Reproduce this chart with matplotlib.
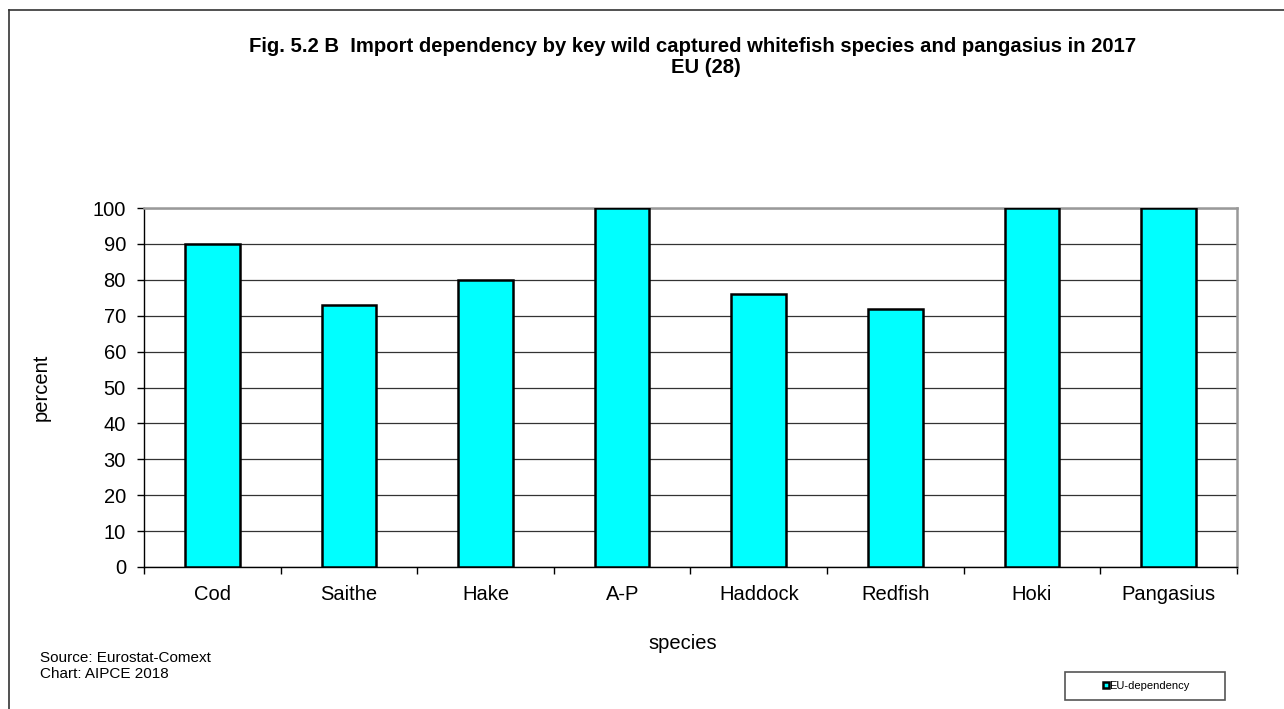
import matplotlib.pyplot as plt
import numpy as np
from matplotlib.lines import Line2D
from matplotlib.patches import Rectangle

plt.rcParams['font.family'] = ['Liberation Sans', 'DejaVu Sans']

# DATA
SPECIES = ['Cod', 'Saithe', 'Hake', 'A-P', 'Haddock', 'Redfish', 'Hoki', 'Pangasius']
DEPENDENCY = [90, 73, 80, 100, 76, 72, 100, 100]
Y_TICKS = list(range(0, 101, 10))

BAR_COLOR = '#00FFFF'

fig = plt.figure(figsize=(12.84, 7.09), dpi=100)
fig.patch.set_facecolor('white')

# outer chart frame (left and top edges only)
fig.add_artist(Line2D([0.007, 0.007], [0.986, 0.0], transform=fig.transFigure,
                      color='#333333', lw=1.2))
fig.add_artist(Line2D([0.007, 1.0], [0.986, 0.986], transform=fig.transFigure,
                      color='#333333', lw=1.2))

ax = fig.add_axes([0.1121, 0.2003, 0.8513, 0.5063])

x = np.arange(len(SPECIES))
ax.bar(x, DEPENDENCY, width=0.4, color=BAR_COLOR, edgecolor='black',
       linewidth=1.8, zorder=3)

ax.set_xlim(-0.5, len(SPECIES) - 0.5)
ax.set_ylim(0, 100)
ax.set_yticks(Y_TICKS)
ax.set_yticklabels([str(v) for v in Y_TICKS], fontsize=14.5)

# category labels centred, tick marks on the boundaries
ax.set_xticks(x)
ax.set_xticklabels(SPECIES, fontsize=14.5)
ax.tick_params(axis='x', length=0, pad=13)
ax.set_xticks(np.arange(-0.5, len(SPECIES), 1), minor=True)
ax.tick_params(axis='x', which='minor', length=5, width=1, color='black',
               direction='out')
ax.tick_params(axis='y', length=5, width=1, direction='out', pad=8)

ax.grid(axis='y', color='#333333', linewidth=0.9, zorder=1)
ax.set_axisbelow(True)

ax.spines['left'].set_color('black')
ax.spines['bottom'].set_color('black')
ax.spines['left'].set_linewidth(1)
ax.spines['bottom'].set_linewidth(1)
ax.spines['top'].set_color('#999999')
ax.spines['right'].set_color('#999999')
ax.spines['top'].set_linewidth(1.8)
ax.spines['right'].set_linewidth(1.8)

ax.set_ylabel('percent', fontsize=14.5)
ax.yaxis.set_label_coords(-0.094, 0.5)
ax.set_xlabel('species', fontsize=14.5)
ax.xaxis.set_label_coords(0.493, -0.212)
ax.xaxis.label.set_va('center')
ax.yaxis.label.set_va('center')

# TITLE
fig.text(0.5397, 0.935,
         'Fig. 5.2 B  Import dependency by key wild captured whitefish species and pangasius in 2017',
         ha='center', va='center', fontsize=14.6, fontweight='bold')
fig.text(0.55, 0.905, 'EU (28)', ha='center', va='center',
         fontsize=14.6, fontweight='bold')

# Source note
fig.text(0.0312, 0.0607, 'Source: Eurostat-Comext\nChart: AIPCE 2018',
         ha='left', va='center', fontsize=11, linespacing=1.15)

# Legend box
fig.add_artist(Rectangle((0.8295, 0.0127), 0.1246, 0.0395,
                         transform=fig.transFigure, facecolor='white',
                         edgecolor='#555555', lw=1.2))
fig.add_artist(Rectangle((0.8590, 0.0296), 0.0047, 0.0085,
                         transform=fig.transFigure, facecolor=BAR_COLOR,
                         edgecolor='black', lw=1.8))
fig.text(0.8640, 0.0324, 'EU-dependency', ha='left', va='center', fontsize=8)

plt.savefig('out.png', dpi=100, facecolor='white')
